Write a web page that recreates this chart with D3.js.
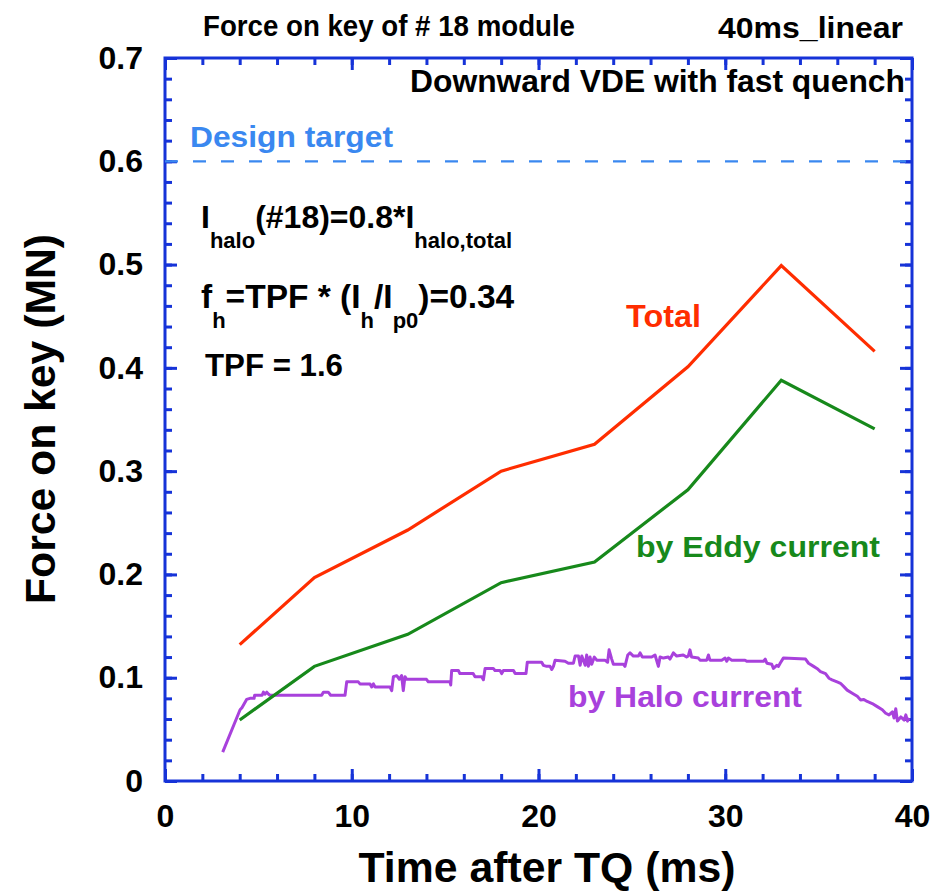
<!DOCTYPE html>
<html>
<head>
<meta charset="utf-8">
<script src="https://cdn.jsdelivr.net/npm/d3@7/dist/d3.min.js"></script>
<style>
  body { margin: 0; background: #fff; }
  text { font-family: "Liberation Sans", Arial, Helvetica, sans-serif; font-weight: bold; }
</style>
</head>
<body>
<div id="chart"></div>
<script>
var width = 943;
var height = 895;

// time points of the computed forces (ms)
var times = [4, 8, 13, 18, 23, 28, 33, 38];
var totalForce = [0.132, 0.197, 0.243, 0.300, 0.326, 0.401, 0.499, 0.416];
var eddyForce = [0.059, 0.111, 0.142, 0.192, 0.212, 0.282, 0.388, 0.341];

// halo current force trace
var haloTime = [3.09, 4.02, 4.12, 4.37, 4.55, 4.77, 4.8, 5.2, 5.27, 5.35, 5.45, 5.55, 5.62,
  8.39, 8.48, 8.74, 8.87, 9.64, 9.73, 10.35, 10.44, 10.98, 11.07, 11.16, 11.25, 12.05,
  12.14, 12.23, 12.41, 12.55, 12.67, 12.76, 12.85, 12.94, 14.0, 14.1, 15.26, 15.3, 15.35,
  15.71, 15.79, 16.5, 16.6, 16.96, 17.05, 17.14, 17.58, 17.67, 17.94, 18.03, 18.12, 18.66,
  18.75, 19.33, 19.4, 20.17, 20.26, 20.44, 20.62, 20.71, 20.8, 20.89, 21.42, 21.6, 21.87,
  21.96, 22.14, 22.23, 22.32, 22.5, 22.58, 22.67, 22.76, 22.85, 22.99, 23.12, 23.56, 23.7,
  23.78, 23.92, 24.01, 24.55, 24.63, 24.78, 24.9, 25.08, 25.35, 25.44, 25.56, 26.06, 26.24,
  26.42, 26.51, 26.69, 26.95, 27.04, 27.22, 27.4, 27.75, 27.93, 28.02, 28.11, 28.2, 28.56,
  28.65, 29.01, 29.1, 29.18, 29.81, 29.99, 30.08, 30.17, 30.35, 31.06, 31.15, 32.05, 32.14,
  32.23, 32.49, 32.58, 32.76, 32.85, 32.94, 33.11, 34.3, 34.46, 34.73, 34.91, 35.1, 35.37,
  35.55, 35.72, 35.99, 36.17, 36.35, 36.53, 36.8, 37.07, 37.25, 37.42, 37.6, 37.87, 38.14,
  38.41, 38.59, 38.77, 38.95, 39.04, 39.13, 39.22, 39.4, 39.58, 39.67, 39.76, 39.85];
var haloForce = [0.028, 0.069, 0.071, 0.079, 0.080, 0.080, 0.083, 0.083, 0.086, 0.084, 0.086, 0.084, 0.083,
  0.083, 0.086, 0.086, 0.083, 0.083, 0.096, 0.096, 0.094, 0.094, 0.091, 0.094, 0.091, 0.091,
  0.0875, 0.101, 0.102, 0.0985, 0.102, 0.0875, 0.101, 0.0985, 0.0985, 0.096, 0.096, 0.093, 0.107,
  0.107, 0.104, 0.104, 0.101, 0.101, 0.098, 0.109, 0.109, 0.107, 0.107, 0.104, 0.107, 0.107,
  0.104, 0.104, 0.115, 0.115, 0.112, 0.111, 0.111, 0.108, 0.111, 0.117, 0.116, 0.114, 0.114,
  0.121, 0.121, 0.112, 0.121, 0.112, 0.122, 0.111, 0.120, 0.113, 0.120, 0.117, 0.117, 0.115,
  0.127, 0.118, 0.113, 0.113, 0.111, 0.122, 0.124, 0.121, 0.121, 0.124, 0.120, 0.120, 0.122,
  0.111, 0.120, 0.119, 0.120, 0.118, 0.124, 0.121, 0.122, 0.120, 0.121, 0.127, 0.120, 0.119,
  0.117, 0.117, 0.122, 0.117, 0.117, 0.119, 0.116, 0.119, 0.117, 0.117, 0.116, 0.116, 0.118,
  0.114, 0.113, 0.109, 0.112, 0.111, 0.114, 0.119, 0.118, 0.114, 0.111, 0.109, 0.106, 0.104,
  0.0995, 0.098, 0.096, 0.0946, 0.0914, 0.088, 0.085, 0.082, 0.0785, 0.079, 0.077, 0.075, 0.072,
  0.069, 0.0656, 0.064, 0.067, 0.061, 0.070, 0.058, 0.062, 0.059, 0.064, 0.058, 0.061];

var designTarget = 0.6;

var xTicks = [0, 10, 20, 30, 40];
var xTickLabels = ["0", "10", "20", "30", "40"];
var yTicks = [0, 0.1, 0.2, 0.3, 0.4, 0.5, 0.6, 0.7];
var yTickLabels = ["0", "0.1", "0.2", "0.3", "0.4", "0.5", "0.6", "0.7"];
var xMinor = d3.range(0, 40.001, 2);
var yMinor = d3.range(0, 0.7001, 0.02);

var axisColor = "#1633d8";

var svg = d3.select("#chart").append("svg")
  .attr("width", width)
  .attr("height", height);

svg.append("rect").attr("width", width).attr("height", height).attr("fill", "#fff");

var x = d3.scaleLinear().domain([0, 40]).range([165, 912]);
var y = d3.scaleLinear().domain([0, 0.7]).range([781, 58]);

function styleAxis(g) {
  g.select(".domain").remove();
  g.selectAll("line").attr("stroke", axisColor).attr("stroke-width", 3);
  g.selectAll("text").attr("fill", "#000").style("font-size", "32px")
    .style("font-family", "'Liberation Sans', Arial, sans-serif").style("font-weight", "bold");
}

// minor ticks, all four sides, pointing inward
svg.append("g").attr("transform", "translate(0,781)")
  .call(d3.axisBottom(x).tickValues(xMinor).tickSize(-7).tickFormat(""))
  .call(styleAxis);
svg.append("g").attr("transform", "translate(0,58)")
  .call(d3.axisTop(x).tickValues(xMinor).tickSize(-7).tickFormat(""))
  .call(styleAxis);
svg.append("g").attr("transform", "translate(165,0)")
  .call(d3.axisLeft(y).tickValues(yMinor).tickSize(-7).tickFormat(""))
  .call(styleAxis);
svg.append("g").attr("transform", "translate(912,0)")
  .call(d3.axisRight(y).tickValues(yMinor).tickSize(-7).tickFormat(""))
  .call(styleAxis);

// major ticks with labels
svg.append("g").attr("transform", "translate(0,781)")
  .call(d3.axisBottom(x).tickValues(xTicks).tickSize(-12).tickPadding(23)
    .tickFormat(function(d, i) { return xTickLabels[i]; }))
  .call(styleAxis);
svg.append("g").attr("transform", "translate(0,58)")
  .call(d3.axisTop(x).tickValues(xTicks).tickSize(-12).tickFormat(""))
  .call(styleAxis);
svg.append("g").attr("transform", "translate(165,0)")
  .call(d3.axisLeft(y).tickValues(yTicks).tickSize(-12).tickPadding(22)
    .tickFormat(function(d, i) { return yTickLabels[i]; }))
  .call(styleAxis);
svg.append("g").attr("transform", "translate(912,0)")
  .call(d3.axisRight(y).tickValues(yTicks).tickSize(-12).tickFormat(""))
  .call(styleAxis);

// frame
svg.append("rect")
  .attr("x", x(0)).attr("y", y(0.7))
  .attr("width", x(40) - x(0)).attr("height", y(0) - y(0.7))
  .attr("fill", "none").attr("stroke", axisColor).attr("stroke-width", 3);

// design target
svg.append("line")
  .attr("x1", x(0)).attr("x2", x(40))
  .attr("y1", y(designTarget)).attr("y2", y(designTarget))
  .attr("stroke", "#3a88f0").attr("stroke-width", 2.2)
  .attr("stroke-dasharray", "13,15");

var line = d3.line()
  .x(function(d) { return x(d[0]); })
  .y(function(d) { return y(d[1]); });

svg.append("path")
  .datum(d3.zip(haloTime, haloForce))
  .attr("d", line)
  .attr("fill", "none").attr("stroke", "#a841dc").attr("stroke-width", 3)
  .attr("stroke-linejoin", "round");

svg.append("path")
  .datum(d3.zip(times, eddyForce))
  .attr("d", line)
  .attr("fill", "none").attr("stroke", "#17891b").attr("stroke-width", 3.2);

svg.append("path")
  .datum(d3.zip(times, totalForce))
  .attr("d", line)
  .attr("fill", "none").attr("stroke", "#ff2d00").attr("stroke-width", 3.2);

// texts
function label(txt, px, py, size, color, len, anchor) {
  var t = svg.append("text")
    .attr("x", px).attr("y", py)
    .attr("fill", color)
    .style("font-size", size + "px")
    .attr("text-anchor", anchor || "start")
    .text(txt);
  if (len) t.attr("textLength", len).attr("lengthAdjust", "spacingAndGlyphs");
  return t;
}

label("Force on key of # 18 module", 203, 36, 29, "#000", 372);
label("40ms_linear", 718, 38, 30, "#000", 185);
label("Downward VDE with fast quench", 905, 92, 31, "#000", 495, "end");
label("Design target", 190, 147, 30, "#3a88f0", 203);
label("Total", 626, 327, 31, "#ff2d00", 75);
label("by Eddy current", 636, 557, 30, "#17891b", 244);
label("by Halo current", 568, 707, 30, "#a841dc", 234);
label("TPF = 1.6", 205, 376, 31, "#000", 138);

// formulas with subscripts
function formula(parts, px, py, mainSize) {
  var t = svg.append("text").attr("x", px).attr("y", py).attr("fill", "#000");
  var low = false;
  parts.forEach(function(p) {
    var sub = p[1];
    var ts = t.append("tspan").text(p[0]).style("font-size", sub ? "22px" : mainSize + "px");
    if (sub && !low) { ts.attr("dy", 20); low = true; }
    else if (!sub && low) { ts.attr("dy", -20); low = false; }
  });
}

formula([["I", false], ["halo", true], ["(#18)=0.8*I", false], ["halo,total", true]], 201, 228, 32);
formula([["f", false], ["h", true], ["=TPF * (I", false], ["h", true], ["/I", false], ["p0", true], [")=0.34", false]], 201, 308, 33.5);

// axis titles
svg.append("text")
  .attr("x", 547).attr("y", 882)
  .attr("text-anchor", "middle")
  .style("font-size", "42px")
  .attr("textLength", 377).attr("lengthAdjust", "spacingAndGlyphs")
  .text("Time after TQ (ms)");

svg.append("text")
  .attr("transform", "translate(55,419) rotate(-90)")
  .attr("text-anchor", "middle")
  .style("font-size", "42px")
  .attr("textLength", 370).attr("lengthAdjust", "spacingAndGlyphs")
  .text("Force on key (MN)");
</script>
</body>
</html>
